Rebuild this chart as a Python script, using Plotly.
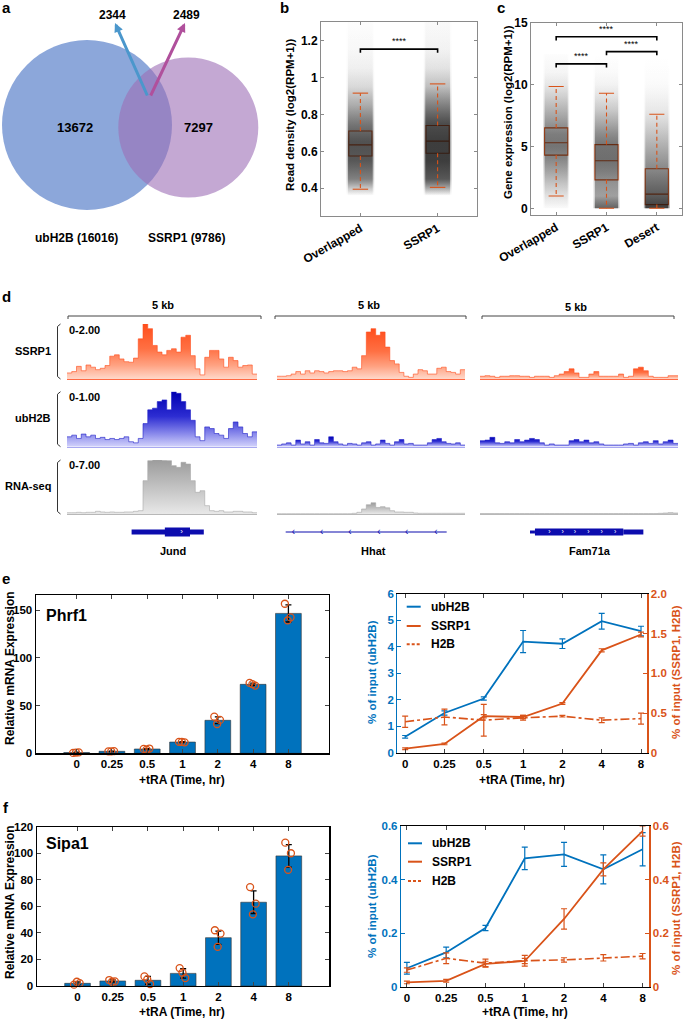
import plotly.graph_objects as go

W, H = 685, 1021
FONT = "Liberation Sans, Arial, Helvetica, sans-serif"
BLUE = "#0072BD"
ORANGE = "#D95319"
FRAME = "#8a8a8a"
GENE = "#0c0cae"

# ======================= DATA =======================
# a: Venn (peak counts)
venn_ubh2b_only = 13672
venn_ssrp1_only = 7297
venn_overlap_from_ubh2b = 2344
venn_overlap_from_ssrp1 = 2489
venn_ubh2b_total = 16016
venn_ssrp1_total = 9786

# b: read density boxplots
b_categories = ["Overlapped", "SSRP1"]
b_q1 = [0.575, 0.590]
b_median = [0.635, 0.655]
b_q3 = [0.710, 0.740]
b_whisker_low = [0.395, 0.405]
b_whisker_high = [0.915, 0.965]
b_cloud_y = [0.36, 0.40, 0.45, 0.55, 0.65, 0.75, 0.85, 0.95, 1.05, 1.15, 1.30]
b_cloud_density = [
    [0.0, 0.22, 0.55, 0.78, 0.82, 0.60, 0.34, 0.15, 0.06, 0.03, 0.01],
    [0.0, 0.35, 0.78, 0.95, 0.95, 0.85, 0.55, 0.26, 0.11, 0.05, 0.02],
]
b_sig_pairs = [(0, 1)]
b_sig_labels = ["****"]

# c: gene expression boxplots
c_categories = ["Overlapped", "SSRP1", "Desert"]
c_q1 = [4.3, 2.3, 0.3]
c_median = [5.3, 3.85, 1.15]
c_q3 = [6.5, 5.15, 3.2]
c_whisker_low = [1.0, 0.0, 0.0]
c_whisker_high = [9.85, 9.3, 7.6]
c_cloud_y = [0, 1, 2, 3, 4, 5, 6, 7, 8, 9, 10, 11, 12.5]
c_cloud_density = [
    [0.02, 0.12, 0.25, 0.40, 0.55, 0.65, 0.60, 0.45, 0.32, 0.20, 0.10, 0.04, 0.01],
    [0.75, 0.42, 0.48, 0.60, 0.68, 0.66, 0.52, 0.36, 0.22, 0.12, 0.05, 0.02, 0.00],
    [1.00, 0.80, 0.68, 0.56, 0.45, 0.35, 0.25, 0.16, 0.09, 0.05, 0.02, 0.01, 0.00],
]
c_sig_pairs = [(0, 1), (1, 2), (0, 2)]
c_sig_labels = ["****", "****", "****"]

# d: genome browser tracks (40 bins per 5-kb window)
track_names = ["SSRP1", "ubH2B", "RNA-seq"]
track_scales = ["0-2.00", "0-1.00", "0-7.00"]
track_max = [2.0, 1.0, 7.0]
loci = ["Jund", "Hhat", "Fam71a"]
ssrp1_jund = [0.22, 0.27, 0.46, 0.30, 0.51, 0.43, 0.34, 0.39, 0.49, 0.83, 0.88, 0.73, 0.63, 0.61, 0.76, 1.46, 2.00, 1.83, 1.22, 0.98,
              0.88, 1.04, 1.10, 0.98, 1.52, 1.59, 0.85, 0.37, 0.15, 0.79, 1.04, 1.04, 0.73, 0.43, 0.79, 0.67, 0.43, 0.49, 0.51, 0.18]
ssrp1_hhat = [0.10, 0.10, 0.12, 0.18, 0.27, 0.18, 0.30, 0.22, 0.30, 0.27, 0.22, 0.27, 0.30, 0.30, 0.27, 0.30, 0.43, 0.37, 0.85, 1.71,
              1.83, 1.59, 1.71, 1.16, 0.67, 0.55, 0.24, 0.10, 0.06, 0.18, 0.34, 0.30, 0.18, 0.18, 0.39, 0.43, 0.27, 0.24, 0.18, 0.34]
ssrp1_fam71a = [0.10, 0.12, 0.10, 0.06, 0.10, 0.10, 0.12, 0.12, 0.10, 0.10, 0.06, 0.10, 0.10, 0.10, 0.06, 0.12, 0.18, 0.27, 0.37, 0.22,
                0.06, 0.06, 0.18, 0.27, 0.10, 0.10, 0.10, 0.10, 0.18, 0.06, 0.10, 0.37, 0.43, 0.30, 0.10, 0.06, 0.06, 0.06, 0.12, 0.12]
ubh2b_jund = [0.18, 0.21, 0.15, 0.23, 0.18, 0.21, 0.15, 0.17, 0.13, 0.15, 0.13, 0.15, 0.18, 0.09, 0.07, 0.15, 0.42, 0.67, 0.70, 0.82,
              0.85, 0.67, 1.00, 0.97, 0.82, 0.67, 0.48, 0.18, 0.11, 0.36, 0.33, 0.24, 0.21, 0.15, 0.33, 0.45, 0.36, 0.24, 0.18, 0.27]
ubh2b_hhat = [0.03, 0.05, 0.07, 0.03, 0.12, 0.05, 0.09, 0.03, 0.13, 0.07, 0.06, 0.18, 0.09, 0.05, 0.03, 0.06, 0.05, 0.03, 0.07, 0.09,
              0.03, 0.05, 0.12, 0.06, 0.03, 0.09, 0.13, 0.05, 0.06, 0.03, 0.03, 0.03, 0.07, 0.13, 0.15, 0.09, 0.06, 0.05, 0.07, 0.03]
ubh2b_fam71a = [0.11, 0.12, 0.17, 0.07, 0.06, 0.09, 0.07, 0.13, 0.09, 0.12, 0.15, 0.13, 0.07, 0.03, 0.05, 0.03, 0.03, 0.03, 0.11, 0.13,
                0.09, 0.12, 0.07, 0.09, 0.05, 0.03, 0.03, 0.03, 0.03, 0.05, 0.06, 0.03, 0.07, 0.09, 0.06, 0.11, 0.05, 0.09, 0.12, 0.06]
rna_jund = [0.17, 0.17, 0.22, 0.17, 0.22, 0.22, 0.35, 0.26, 0.22, 0.26, 0.22, 0.22, 0.26, 0.26, 0.35, 0.43, 4.32, 6.91, 7.00, 7.00,
            6.95, 6.91, 6.27, 6.05, 6.70, 6.48, 4.32, 2.81, 3.02, 1.08, 0.43, 0.35, 0.43, 0.26, 0.26, 0.35, 0.35, 0.26, 0.26, 0.17]
rna_hhat = [0.04, 0.04, 0.04, 0.04, 0.04, 0.04, 0.04, 0.04, 0.04, 0.04, 0.04, 0.04, 0.04, 0.04, 0.04, 0.04, 0.09, 0.22, 0.65, 1.20,
            1.45, 0.85, 0.95, 0.80, 0.43, 0.26, 0.26, 0.22, 0.22, 0.13, 0.09, 0.09, 0.09, 0.09, 0.09, 0.09, 0.09, 0.09, 0.09, 0.09]
rna_fam71a = [0.06, 0.06, 0.06, 0.06, 0.06, 0.06, 0.06, 0.06, 0.06, 0.06, 0.06, 0.06, 0.06, 0.06, 0.06, 0.06, 0.06, 0.06, 0.06, 0.06,
              0.06, 0.06, 0.06, 0.06, 0.06, 0.06, 0.06, 0.06, 0.06, 0.06, 0.06, 0.06, 0.06, 0.06, 0.06, 0.06, 0.09, 0.13, 0.17, 0.13]
# gene models, in bin coordinates of each window
jund_utr = [13.6, 28.8]
jund_cds = [20.6, 25.9]
jund_strand = [24.1]
hhat_span = [1.85, 36.1]
hhat_strand = [3.5, 9.5, 15.5, 21.7, 27.6, 33.8]
fam71a_utr5 = [10.1, 11.1]
fam71a_cds = [11.1, 28.95]
fam71a_utr3 = [28.95, 33.0]
fam71a_strand = [14.0, 16.7, 19.2, 21.9, 24.6, 27.3]

# e / f: qPCR and ChIP time courses
time_labels = ["0", "0.25", "0.5", "1", "2", "4", "8"]
phrf1_mean = [0.8, 2.1, 4.5, 11.8, 34.6, 72.3, 146.7]
phrf1_sd = [0.3, 0.2, 0.5, 0.5, 3.5, 1.2, 9.0]
phrf1_reps = [[0.4, 0.9, 0.8], [2.0, 2.3, 2.0], [4.6, 5.0, 3.9], [12.0, 11.5, 11.9],
              [38.4, 35.0, 30.7], [73.8, 71.0, 72.5], [156.8, 142.5, 139.4]]
sipa1_mean = [2.0, 3.8, 4.3, 9.5, 36.4, 63.1, 98.0]
sipa1_sd = [1.0, 0.8, 3.0, 3.5, 5.0, 8.5, 8.5]
sipa1_reps = [[1.0, 2.2, 3.2], [4.5, 3.5, 3.2], [7.2, 1.5, 5.0], [13.5, 6.0, 10.0],
              [42.0, 39.5, 29.5], [74.5, 62.0, 54.0], [108.0, 100.0, 87.5]]
rep_jitter = [-0.1, 0.06, -0.02]

e_ubh2b = [0.60, 1.50, 2.05, 4.20, 4.12, 4.97, 4.60]
e_ubh2b_sd = [0.05, 0.08, 0.06, 0.42, 0.18, 0.30, 0.18]
e_ssrp1 = [0.05, 0.11, 0.46, 0.45, 0.62, 1.29, 1.49]
e_ssrp1_sd = [0.01, 0.01, 0.02, 0.02, 0.01, 0.02, 0.03]
e_h2b = [0.39, 0.45, 0.41, 0.44, 0.46, 0.41, 0.43]
e_h2b_sd = [0.07, 0.10, 0.20, 0.03, 0.01, 0.03, 0.07]

f_ubh2b = [0.069, 0.128, 0.219, 0.479, 0.494, 0.438, 0.513]
f_ubh2b_sd = [0.022, 0.020, 0.010, 0.042, 0.045, 0.054, 0.062]
f_ssrp1 = [0.016, 0.022, 0.085, 0.096, 0.253, 0.438, 0.581]
f_ssrp1_sd = [0.005, 0.005, 0.010, 0.010, 0.038, 0.024, 0.019]
f_h2b = [0.062, 0.106, 0.088, 0.097, 0.100, 0.108, 0.114]
f_h2b_sd = [0.008, 0.020, 0.015, 0.020, 0.008, 0.012, 0.010]

# ======================= HELPERS =======================
def X(px):
    return px / W


def Y(py):
    return 1 - py / H


def dom_x(a, b):
    return [X(a), X(b)]


def dom_y(top, bot):
    return [Y(bot), Y(top)]


fig = go.Figure()
layout = {}
annotations = []
shapes = []


def bold(size, color="black"):
    return dict(family=FONT, size=size, color=color, weight="bold")


def ann(x, y, text, size=11, color="black", xanchor="center", yanchor="middle", angle=0):
    annotations.append(dict(x=X(x), y=Y(y), xref="paper", yref="paper", text=text, showarrow=False,
                            xanchor=xanchor, yanchor=yanchor, textangle=angle, font=bold(size, color)))


def pline(x0, y0, x1, y1, color="#333", width=1, dash=None):
    shapes.append(dict(type="line", xref="paper", yref="paper", x0=X(x0), y0=Y(y0), x1=X(x1), y1=Y(y1),
                       line=dict(color=color, width=width, dash=dash)))


# panel letters
ann(6, 8, "a", 15)
ann(284, 8, "b", 15)
ann(501, 8, "c", 15)
ann(6, 296, "d", 15)
ann(6, 578, "e", 15)
ann(6, 807, "f", 15)

# ======================= a: Venn =======================
layout["xaxis"] = dict(domain=dom_x(0, 265), range=[0, 265], visible=False, anchor="y")
layout["yaxis"] = dict(domain=dom_y(20, 230), range=[230, 20], visible=False, anchor="x")
fig.add_trace(go.Scatter(x=[0], y=[100], mode="markers", marker=dict(opacity=0), showlegend=False,
                         hoverinfo="skip", xaxis="x", yaxis="y"))
shapes.append(dict(type="circle", xref="x", yref="y", x0=2, x1=172, y0=40, y1=210,
                   fillcolor="rgb(140,167,218)", line=dict(width=0)))
shapes.append(dict(type="circle", xref="x", yref="y", x0=118.3, x1=258.3, y0=57.5, y1=197.5,
                   fillcolor="rgba(157,110,182,0.6)", line=dict(width=0)))
for hx, hy, tx, ty, col in [(115, 23, 148, 97, "#4b97cc"), (185, 23, 150, 97, "#b0509c")]:
    annotations.append(dict(x=hx, y=hy, ax=tx, ay=ty, xref="x", yref="y", axref="x", ayref="y", text="",
                            showarrow=True, arrowhead=2, arrowsize=0.6, arrowwidth=3, arrowcolor=col))
ann(113, 15, f"{venn_overlap_from_ubh2b}", 12)
ann(186, 15, f"{venn_overlap_from_ssrp1}", 12)
ann(75, 127, f"{venn_ubh2b_only}", 13)
ann(198, 127, f"{venn_ssrp1_only}", 13)
ann(76, 238, f"ubH2B ({venn_ubh2b_total})", 12)
ann(186, 238, f"SSRP1 ({venn_ssrp1_total})", 12)


# ======================= b & c: boxplots =======================
def box_panel(idx, cats, q1, med, q3, wlo, whi, cloud_y, cloud_d, hw_cloud, box_w, cap_w, alpha):
    xa, ya = f"x{idx}", f"y{idx}"
    pos = list(range(1, len(cats) + 1))
    y0, y1 = cloud_y[0], cloud_y[-1]
    for p, dens in zip(pos, cloud_d):
        # soft outer halo + denser core, both built from the same density profile
        for hw, a_mult in [(hw_cloud * 1.12, 0.35), (hw_cloud, 0.75)]:
            cs = [[(yy - y0) / (y1 - y0), f"rgba(15,15,15,{d * alpha * a_mult:.3f})"]
                  for yy, d in zip(cloud_y, dens)]
            fig.add_trace(go.Scatter(x=[p - hw, p + hw, p + hw, p - hw, p - hw],
                                     y=[y0, y0, y1, y1, y0], mode="lines", line=dict(width=0), fill="toself",
                                     fillgradient=dict(type="vertical", colorscale=cs, start=y0, stop=y1),
                                     showlegend=False, hoverinfo="skip", xaxis=xa, yaxis=ya))
    wx, wy, cx, cy = [], [], [], []
    for i, p in enumerate(pos):
        wx += [p, p, None, p, p, None]
        wy += [q3[i], whi[i], None, q1[i], wlo[i], None]
        cx += [p - cap_w, p + cap_w, None, p - cap_w, p + cap_w, None]
        cy += [whi[i], whi[i], None, wlo[i], wlo[i], None]
    fig.add_trace(go.Scatter(x=wx, y=wy, mode="lines", line=dict(color=ORANGE, width=1.1, dash="4px,3px"),
                             showlegend=False, hoverinfo="skip", xaxis=xa, yaxis=ya))
    fig.add_trace(go.Scatter(x=cx, y=cy, mode="lines", line=dict(color=ORANGE, width=1.1),
                             showlegend=False, hoverinfo="skip", xaxis=xa, yaxis=ya))
    fig.add_trace(go.Box(x=pos, q1=q1, median=med, q3=q3, lowerfence=q1, upperfence=q3, width=box_w,
                         whiskerwidth=0, line=dict(color=ORANGE, width=1.1), fillcolor="rgba(0,0,0,0)",
                         boxpoints=False, showlegend=False, hoverinfo="skip", xaxis=xa, yaxis=ya))
    return pos


def sig_brackets(idx, pairs, labels, levels, drop, lab_off, pos):
    for (i, j), lab, lev in zip(pairs, labels, levels):
        a, b = pos[i], pos[j]
        fig.add_trace(go.Scatter(x=[a, a, b, b], y=[lev - drop, lev, lev, lev - drop], mode="lines",
                                 line=dict(color="black", width=1.6), showlegend=False, hoverinfo="skip",
                                 xaxis=f"x{idx}", yaxis=f"y{idx}"))
        annotations.append(dict(x=(a + b) / 2, y=lev + lab_off, xref=f"x{idx}", yref=f"y{idx}", text=lab,
                                showarrow=False, font=dict(family=FONT, size=9, color="black")))


def frame_axes(idx, xd, yd, xr, yr, tickvals_x, ticktext_x, tickvals_y, ticktext_y, color, tickangle=0, fs=12):
    layout[f"xaxis{idx}"] = dict(domain=xd, range=xr, anchor=f"y{idx}", tickvals=tickvals_x, ticktext=ticktext_x,
                                 tickangle=tickangle, ticks="inside", ticklen=3, tickcolor=color, showline=True,
                                 linecolor=color, linewidth=1, mirror="ticks", showgrid=False, zeroline=False,
                                 tickfont=bold(fs))
    layout[f"yaxis{idx}"] = dict(domain=yd, range=yr, anchor=f"x{idx}", tickvals=tickvals_y, ticktext=ticktext_y,
                                 ticks="inside", ticklen=3, tickcolor=color, showline=True, linecolor=color,
                                 linewidth=1, mirror="ticks", showgrid=False, zeroline=False, tickfont=bold(fs))


posb = box_panel(2, b_categories, b_q1, b_median, b_q3, b_whisker_low, b_whisker_high, b_cloud_y,
                 b_cloud_density, 0.16, 0.30, 0.10, 1.0)
sig_brackets(2, b_sig_pairs, b_sig_labels, [1.153], 0.02, 0.042, posb)
frame_axes(2, dom_x(321, 477), dom_y(22, 216), [0.49, 2.51], [0.25, 1.3], posb, b_categories,
           [0.4, 0.6, 0.8, 1.0, 1.2], ["0.4", "0.6", "0.8", "1", "1.2"], FRAME, tickangle=-30)
ann(290, 115, "Read density (log2(RPM+1))", 11.5, angle=-90)

posc = box_panel(3, c_categories, c_q1, c_median, c_q3, c_whisker_low, c_whisker_high, c_cloud_y,
                 c_cloud_density, 0.23, 0.46, 0.15, 0.95)
sig_brackets(3, c_sig_pairs, c_sig_labels, [11.67, 12.66, 13.87], 0.3, 0.65, posc)
frame_axes(3, dom_x(531, 682), dom_y(22.7, 215), [0.5, 3.5], [-0.54, 15], posc, c_categories,
           [0, 5, 10, 15], ["0", "5", "10", "15"], FRAME, tickangle=-30)
ann(508, 112, "Gene expression (log2(RPM+1))", 11.5, angle=-90)

# ======================= d: browser tracks =======================
cols = [(67, 257), (277, 465), (480, 678)]
rows = [(324, 379), (391.7, 446.7), (460, 514)]
track_values = [[ssrp1_jund, ssrp1_hhat, ssrp1_fam71a],
                [ubh2b_jund, ubh2b_hhat, ubh2b_fam71a],
                [rna_jund, rna_hhat, rna_fam71a]]
track_scales_cs = [
    [[0, "#ffd8ca"], [0.25, "#ffa282"], [0.55, "#ff7043"], [1, "#ff4e1c"]],
    [[0, "#d2d2fb"], [0.25, "#8585ea"], [0.55, "#2d2dd2"], [1, "#0000b2"]],
    [[0, "#e8e8e8"], [1, "#9c9c9c"]],
]
track_line = ["#ff4e1c", "#2020c8", "#a8a8a8"]
track_base = ["#ff6a44", "#a8a8f0", "#b8b8b8"]
for r in range(3):
    top, bot = rows[r]
    for c in range(3):
        idx = 4 + r * 3 + c
        vals = track_values[r][c]
        xs = list(range(len(vals) + 1))
        ys = vals + [vals[-1]]
        fig.add_trace(go.Scatter(x=xs, y=ys, mode="lines", line=dict(shape="hv", color=track_line[r], width=0.6),
                                 fill="tozeroy",
                                 fillgradient=dict(type="vertical", colorscale=track_scales_cs[r], start=0,
                                                   stop=max(vals)),
                                 showlegend=False, hoverinfo="skip", xaxis=f"x{idx}", yaxis=f"y{idx}"))
        layout[f"xaxis{idx}"] = dict(domain=dom_x(*cols[c]), range=[0, len(vals)], anchor=f"y{idx}",
                                     showline=True, linecolor=track_base[r], linewidth=1, showticklabels=False,
                                     ticks="", showgrid=False, zeroline=False)
        layout[f"yaxis{idx}"] = dict(domain=dom_y(top, bot), range=[0, track_max[r]], anchor=f"x{idx}",
                                     visible=False)
    path = (f"M {X(60.5)} {Y(top)} L {X(57.5)} {Y(top + 2.5)} L {X(57.5)} {Y(bot - 2.5)} "
            f"L {X(60.5)} {Y(bot)}")
    shapes.append(dict(type="path", xref="paper", yref="paper", path=path, line=dict(color="#333", width=1)))
    ann(67, top + 5.5, track_scales[r], 11, xanchor="left")
    ann(53, (top + bot) / 2 - 1, track_names[r], 11, xanchor="right")

# scale bars
for (x0, x1), ty in zip([(68, 261), (275, 466), (482, 674)], [305, 305, 307]):
    pline(x0, 316, x1, 316, "#444", 1)
    pline(x0, 316, x0, 319, "#444", 1)
    pline(x1, 316, x1, 319, "#444", 1)
    ann((x0 + x1) / 2 - 2, ty, "5 kb", 11)

# gene models
for c in range(3):
    idx = 13 + c
    layout[f"xaxis{idx}"] = dict(domain=dom_x(*cols[c]), range=[0, 40], anchor=f"y{idx}", visible=False)
    layout[f"yaxis{idx}"] = dict(domain=dom_y(524, 540), range=[-1, 1], anchor=f"x{idx}", visible=False)


def gline(idx, span, width):
    fig.add_trace(go.Scatter(x=span, y=[0, 0], mode="lines", line=dict(color=GENE, width=width),
                             showlegend=False, hoverinfo="skip", xaxis=f"x{idx}", yaxis=f"y{idx}"))


def gmarks(idx, xs, sym, color, size):
    fig.add_trace(go.Scatter(x=xs, y=[0] * len(xs), mode="text", text=[sym] * len(xs),
                             textfont=dict(family=FONT, size=size, color=color), showlegend=False,
                             hoverinfo="skip", xaxis=f"x{idx}", yaxis=f"y{idx}"))


gline(13, jund_utr, 5)
gline(13, jund_cds, 9)
gmarks(13, jund_strand, "›", "white", 8)
gline(14, hhat_span, 1.2)
gmarks(14, hhat_strand, "‹", GENE, 10)
gline(15, fam71a_utr5, 3)
gline(15, fam71a_cds, 7)
gline(15, fam71a_utr3, 5)
gmarks(15, fam71a_strand, "›", "white", 7)
ann(173, 551, loci[0], 11)
ann(373, 551, loci[1], 11)
ann(590, 551, loci[2], 11)


# ======================= e / f left: bars =======================
def bar_panel(idx, mean, sd, reps, xd, yd, yr, tvals, title, ty_title, tx_title):
    xa, ya = f"x{idx}", f"y{idx}"
    pos = list(range(len(time_labels)))
    fig.add_trace(go.Bar(x=pos, y=mean, width=0.73, marker=dict(color=BLUE, line=dict(color="#333", width=0.6)),
                         error_y=dict(type="data", array=sd, color="black", thickness=1.3, width=3),
                         showlegend=False, hoverinfo="skip", xaxis=xa, yaxis=ya))
    dx, dy = [], []
    for p, rr in zip(pos, reps):
        for j, v in enumerate(rr):
            dx.append(p + rep_jitter[j % len(rep_jitter)])
            dy.append(v)
    fig.add_trace(go.Scatter(x=dx, y=dy, mode="markers",
                             marker=dict(symbol="circle-open", size=7, color=ORANGE, line=dict(width=1.3)),
                             showlegend=False, hoverinfo="skip", xaxis=xa, yaxis=ya, cliponaxis=False))
    layout[f"xaxis{idx}"] = dict(domain=xd, range=[-1.16, 7.15], anchor=ya, tickvals=pos,
                                 ticktext=time_labels, ticks="inside", ticklen=4, showline=True,
                                 linecolor="black", linewidth=1.2, mirror="ticks", showgrid=False,
                                 zeroline=False, tickfont=bold(11.5))
    layout[f"yaxis{idx}"] = dict(domain=yd, range=yr, anchor=xa, tickvals=tvals,
                                 ticks="inside", ticklen=4, showline=True, linecolor="black",
                                 linewidth=1.2, mirror="ticks", showgrid=False, zeroline=False,
                                 tickfont=bold(11.5))
    ann(44, ty_title, title, 16, xanchor="left")
    ann(182, tx_title, "+tRA (Time, hr)", 12)


bar_panel(16, phrf1_mean, phrf1_sd, phrf1_reps, dom_x(35.7, 329), dom_y(595, 753.3), [0, 166],
          [0, 50, 100, 150], "Phrf1", 615, 780)
ann(10, 668, "Relative mRNA Expression", 12, angle=-90)
bar_panel(19, sipa1_mean, sipa1_sd, sipa1_reps, dom_x(36.7, 329.3), dom_y(826.7, 986), [0, 120],
          [0, 20, 40, 60, 80, 100, 120], "Sipa1", 843, 1012)
ann(10, 902, "Relative mRNA Expression", 12, angle=-90)


# ======================= e / f right: ChIP lines =======================
def line_panel(idx, idx2, ub, ubsd, ss, sssd, hb, hbsd, xd, yd, xr, yr1, tv1, tt1, yr2, tv2, tt2,
               leg_x, leg_ys, cx, ty_title):
    xa, ya, ya2 = f"x{idx}", f"y{idx}", f"y{idx2}"
    pos = list(range(len(time_labels)))
    fig.add_trace(go.Scatter(x=pos, y=hb, mode="lines", line=dict(color=ORANGE, width=1.6, dash="dashdot"),
                             error_y=dict(type="data", array=hbsd, color=ORANGE, thickness=1.2, width=3),
                             showlegend=False, hoverinfo="skip", xaxis=xa, yaxis=ya2))
    fig.add_trace(go.Scatter(x=pos, y=ss, mode="lines", line=dict(color=ORANGE, width=1.8),
                             error_y=dict(type="data", array=sssd, color=ORANGE, thickness=1.2, width=3),
                             showlegend=False, hoverinfo="skip", xaxis=xa, yaxis=ya2))
    fig.add_trace(go.Scatter(x=pos, y=ub, mode="lines", line=dict(color=BLUE, width=1.8),
                             error_y=dict(type="data", array=ubsd, color=BLUE, thickness=1.2, width=3),
                             showlegend=False, hoverinfo="skip", xaxis=xa, yaxis=ya))
    layout[f"xaxis{idx}"] = dict(domain=xd, range=xr, anchor=ya, tickvals=pos, ticktext=time_labels,
                                 ticks="inside", ticklen=4, showline=True, linecolor="black", linewidth=1.2,
                                 mirror="ticks", showgrid=False, zeroline=False, tickfont=bold(11.5))
    layout[f"yaxis{idx}"] = dict(domain=yd, range=yr1, anchor=xa, tickvals=tv1, ticktext=tt1, ticks="inside",
                                 ticklen=4, showline=True, linecolor=BLUE, tickcolor=BLUE, linewidth=1.2,
                                 showgrid=False, zeroline=False, tickfont=bold(11.5, BLUE))
    layout[f"yaxis{idx2}"] = dict(range=yr2, anchor=xa, overlaying=ya, side="right", tickvals=tv2,
                                  ticktext=tt2, ticks="inside", ticklen=4, showline=True, linecolor=ORANGE,
                                  tickcolor=ORANGE, linewidth=1.2, showgrid=False, zeroline=False,
                                  tickfont=bold(11.5, ORANGE))
    for (lab, col, dash), ly in zip([("ubH2B", BLUE, None), ("SSRP1", ORANGE, None), ("H2B", ORANGE, "3px,2px")],
                                    leg_ys):
        pline(leg_x, ly, leg_x + 14, ly, col, 2, dash)
        ann(leg_x + 22, ly, lab, 12, xanchor="left")
    ann(cx, ty_title, "+tRA (Time, hr)", 12)


line_panel(17, 18, e_ubh2b, e_ubh2b_sd, e_ssrp1, e_ssrp1_sd, e_h2b, e_h2b_sd,
           dom_x(397.3, 647.3), dom_y(594, 752.7), [-0.2, 6.16],
           [0, 6], [0, 1, 2, 3, 4, 5, 6], ["0", "1", "2", "3", "4", "5", "6"],
           [0, 2], [0, 0.5, 1, 1.5, 2], ["0", "0.5", "1.0", "1.5", "2.0"],
           406.7, [606.7, 626, 644.3], 522, 780)
ann(372, 672, "% of input (ubH2B)", 11.5, BLUE, angle=-90)
ann(676, 672, "% of input (SSRP1, H2B)", 11.5, ORANGE, angle=-90)

line_panel(20, 21, f_ubh2b, f_ubh2b_sd, f_ssrp1, f_ssrp1_sd, f_h2b, f_h2b_sd,
           dom_x(401, 649.3), dom_y(826, 986.7), [-0.15, 6.17],
           [0, 0.6], [0, 0.2, 0.4, 0.6], ["0", "0.2", "0.4", "0.6"],
           [0, 0.6], [0, 0.2, 0.4, 0.6], ["0", "0.2", "0.4", "0.6"],
           408, [843.3, 861.7, 881], 525, 1012)
ann(372, 906, "% of input (ubH2B)", 11.5, BLUE, angle=-90)
ann(676, 908, "% of input (SSRP1, H2B)", 11.5, ORANGE, angle=-90)

for k, v in layout.items():
    v["automargin"] = False

fig.update_layout(
    width=W, height=H, margin=dict(l=0, r=0, t=0, b=0, pad=0), autosize=False,
    paper_bgcolor="white", plot_bgcolor="white", showlegend=False,
    font=dict(family=FONT, size=11, color="black"),
    annotations=annotations, shapes=shapes, **layout,
)
fig.write_html(
    "out.html",
    config={"displayModeBar": False, "staticPlot": True},
    post_script="document.body.style.margin='0px';document.body.style.padding='0px';"
                "document.documentElement.style.overflow='hidden';document.body.style.overflow='hidden';",
)
